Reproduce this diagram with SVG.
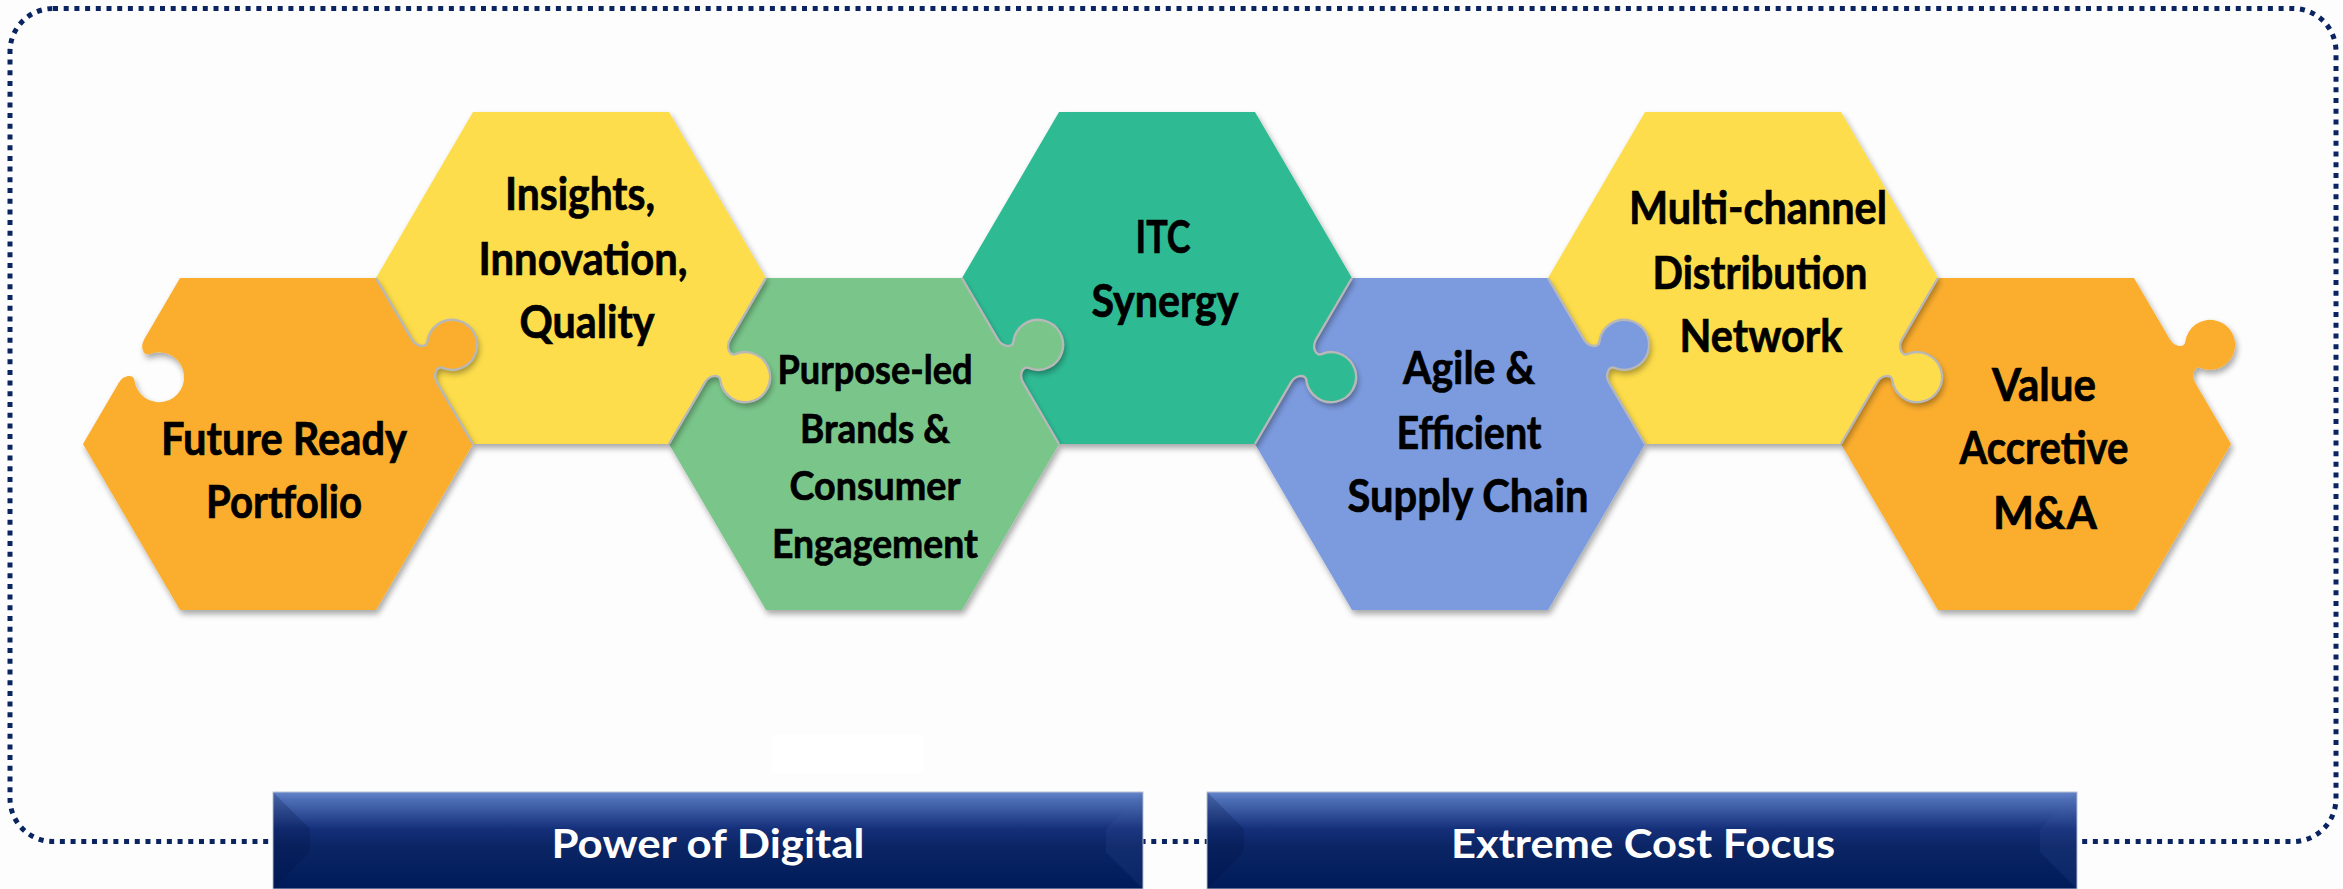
<svg xmlns="http://www.w3.org/2000/svg" xmlns:xlink="http://www.w3.org/1999/xlink" width="2343" height="889" viewBox="0 0 2343 889">
<defs>
<style>
.lbl{font-family:Lato,"Open Sans","Liberation Sans",sans-serif;font-weight:700;font-size:45px;fill:#000;stroke:#000;stroke-width:0.7px;text-anchor:middle}
.sm{font-size:41px}
.ban{font-family:Lato,"Open Sans","Liberation Sans",sans-serif;font-weight:700;font-size:41px;fill:#fff;text-anchor:middle}
.seam{fill:none;stroke:#b8b8b8;stroke-width:2.4;stroke-linejoin:round}
.c-orange{fill:#FBAE2F}
.c-yellow{fill:#FDDD4C}
.c-green{fill:#7AC68A}
.c-teal{fill:#2DBB94}
.c-blue{fill:#7B9BDF}
.lf{fill:#00123f;opacity:.22}
.rf{fill:#4565ad;opacity:.14}
</style>
<filter id="ds" x="-10%" y="-10%" width="125%" height="125%">
<feGaussianBlur in="SourceAlpha" stdDeviation="3"/>
<feOffset dx="2" dy="4" result="o"/>
<feComponentTransfer><feFuncA type="linear" slope="0.35"/></feComponentTransfer>
<feMerge><feMergeNode/><feMergeNode in="SourceGraphic"/></feMerge>
</filter>
<path id="knob" d="M -25 3 L -25 0 C -16 0 -10.2 -8.4 -15 -12 A 25 25 0 1 1 15 -12 C 10.2 -8.4 16 0 25 0 L 25 3 Z"/>
<path id="seamp" d="M -96.15 0 L -25 0 C -16 0 -10.2 -8.4 -15 -12 A 25 25 0 1 1 15 -12 C 10.2 -8.4 16 0 25 0 L 96.15 0"/>
<mask id="sock" maskUnits="userSpaceOnUse" x="0" y="0" width="2343" height="889">
<rect width="2343" height="889" fill="#fff"/>
<use xlink:href="#knob" href="#knob" fill="#000" transform="translate(131.5,361) rotate(120.3)"/>
</mask>
<linearGradient id="bang" x1="0" y1="0" x2="0" y2="1">
<stop offset="0" stop-color="#6485ca"/>
<stop offset="0.08" stop-color="#4d6eb6"/>
<stop offset="0.38" stop-color="#15307a"/>
<stop offset="0.55" stop-color="#0b2565"/>
<stop offset="1" stop-color="#001b5a"/>
</linearGradient>
</defs>

<rect width="2343" height="889" fill="#fdfdfd"/>
<rect x="772" y="735" width="151" height="38" fill="#ffffff"/>
<rect x="10" y="8.5" width="2326" height="833" rx="43" fill="none" stroke="#0a2461" stroke-width="5" stroke-dasharray="5 5.7"/>

<g id="pieces">
<g id="node-value-accretive">
<g filter="url(#ds)">
<path class="c-orange" d="M 1841 444 L 1938 278 L 2134 278 L 2231 444 L 2134 610 L 1938 610 Z"/>
<use xlink:href="#knob" href="#knob" class="c-orange" transform="translate(2182.5,361) rotate(59.7)"/>
</g>
<text class="lbl" x="2044" y="401" textLength="104" lengthAdjust="spacingAndGlyphs">Value</text>
<text class="lbl" x="2044" y="464" textLength="169" lengthAdjust="spacingAndGlyphs">Accretive</text>
<text class="lbl" x="2045" y="529" textLength="104" lengthAdjust="spacingAndGlyphs">M&amp;A</text>
</g>

<g id="node-multichannel">
<g filter="url(#ds)">
<path class="c-yellow" d="M 1548 278 L 1645 112 L 1841 112 L 1938 278 L 1841 444 L 1645 444 Z"/>
<use xlink:href="#knob" href="#knob" class="c-yellow" transform="translate(1889.5,361) rotate(120.3)"/>
</g>
<text class="lbl" x="1758" y="224" textLength="258" lengthAdjust="spacingAndGlyphs">Multi-channel</text>
<text class="lbl" x="1760" y="289" textLength="215" lengthAdjust="spacingAndGlyphs">Distribution</text>
<text class="lbl" x="1761" y="352" textLength="163" lengthAdjust="spacingAndGlyphs">Network</text>
</g>

<g id="node-supply-chain">
<g filter="url(#ds)">
<path class="c-blue" d="M 1255 444 L 1352 278 L 1548 278 L 1645 444 L 1548 610 L 1352 610 Z"/>
<use xlink:href="#knob" href="#knob" class="c-blue" transform="translate(1596.5,361) rotate(59.7)"/>
</g>
<text class="lbl" x="1469" y="384" textLength="132" lengthAdjust="spacingAndGlyphs">Agile &amp;</text>
<text class="lbl" x="1469" y="449" textLength="145" lengthAdjust="spacingAndGlyphs">Efficient</text>
<text class="lbl" x="1468" y="512" textLength="241" lengthAdjust="spacingAndGlyphs">Supply Chain</text>
</g>

<g id="node-itc-synergy">
<g filter="url(#ds)">
<path class="c-teal" d="M 962 278 L 1059 112 L 1255 112 L 1352 278 L 1255 444 L 1059 444 Z"/>
<use xlink:href="#knob" href="#knob" class="c-teal" transform="translate(1303.5,361) rotate(120.3)"/>
</g>
<text class="lbl" x="1163" y="253" textLength="55" lengthAdjust="spacingAndGlyphs">ITC</text>
<text class="lbl" x="1165" y="317" textLength="147" lengthAdjust="spacingAndGlyphs">Synergy</text>
</g>

<g id="node-purpose-led">
<g filter="url(#ds)">
<path class="c-green" d="M 669 444 L 766 278 L 962 278 L 1059 444 L 962 610 L 766 610 Z"/>
<use xlink:href="#knob" href="#knob" class="c-green" transform="translate(1010.5,361) rotate(59.7)"/>
</g>
<text class="lbl sm" x="875" y="384" textLength="195" lengthAdjust="spacingAndGlyphs">Purpose-led</text>
<text class="lbl sm" x="875" y="443" textLength="150" lengthAdjust="spacingAndGlyphs">Brands &amp;</text>
<text class="lbl sm" x="875" y="500" textLength="171" lengthAdjust="spacingAndGlyphs">Consumer</text>
<text class="lbl sm" x="875" y="558" textLength="206" lengthAdjust="spacingAndGlyphs">Engagement</text>
</g>

<g id="node-insights">
<g filter="url(#ds)">
<path class="c-yellow" d="M 376 278 L 473 112 L 669 112 L 766 278 L 669 444 L 473 444 Z"/>
<use xlink:href="#knob" href="#knob" class="c-yellow" transform="translate(717.5,361) rotate(120.3)"/>
</g>
<text class="lbl" x="580" y="210" textLength="150" lengthAdjust="spacingAndGlyphs">Insights,</text>
<text class="lbl" x="583" y="275" textLength="209" lengthAdjust="spacingAndGlyphs">Innovation,</text>
<text class="lbl" x="587" y="338" textLength="135" lengthAdjust="spacingAndGlyphs">Quality</text>
</g>

<g id="node-future-ready">
<g filter="url(#ds)">
<path class="c-orange" mask="url(#sock)" d="M 83 444 L 180 278 L 376 278 L 473 444 L 376 610 L 180 610 Z"/>
<use xlink:href="#knob" href="#knob" class="c-orange" transform="translate(424.5,361) rotate(59.7)"/>
</g>
<text class="lbl" x="284" y="455" textLength="246" lengthAdjust="spacingAndGlyphs">Future Ready</text>
<text class="lbl" x="284" y="518" textLength="156" lengthAdjust="spacingAndGlyphs">Portfolio</text>
</g>
</g>

<g id="connectors">
<use xlink:href="#seamp" href="#seamp" class="seam" transform="translate(424.5,361) rotate(59.7)"/>
<use xlink:href="#seamp" href="#seamp" class="seam" transform="translate(717.5,361) rotate(120.3)"/>
<use xlink:href="#seamp" href="#seamp" class="seam" transform="translate(1010.5,361) rotate(59.7)"/>
<use xlink:href="#seamp" href="#seamp" class="seam" transform="translate(1303.5,361) rotate(120.3)"/>
<use xlink:href="#seamp" href="#seamp" class="seam" transform="translate(1596.5,361) rotate(59.7)"/>
<use xlink:href="#seamp" href="#seamp" class="seam" transform="translate(1889.5,361) rotate(120.3)"/>
</g>

<g id="banner-digital">
<rect x="273" y="792" width="870" height="97" fill="url(#bang)" stroke="#b9c1d3" stroke-width="1"/>
<polygon class="lf" points="273.5,792.5 310,829 310,852 273.5,888.5"/>
<polygon class="rf" points="1142.5,792.5 1106,829 1106,852 1142.5,888.5"/>
<text class="ban" x="708" y="858" textLength="313" lengthAdjust="spacingAndGlyphs">Power of Digital</text>
</g>

<g id="banner-cost">
<rect x="1207" y="792" width="870" height="97" fill="url(#bang)" stroke="#b9c1d3" stroke-width="1"/>
<polygon class="lf" points="1207.5,792.5 1244,829 1244,852 1207.5,888.5"/>
<polygon class="rf" points="2076.5,792.5 2040,829 2040,852 2076.5,888.5"/>
<text class="ban" x="1643" y="858" textLength="384" lengthAdjust="spacingAndGlyphs">Extreme Cost Focus</text>
</g>
</svg>
